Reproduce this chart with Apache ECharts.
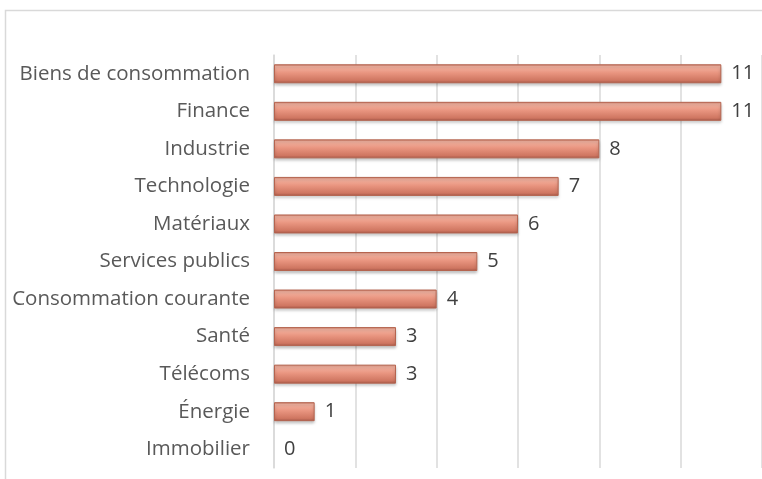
<!DOCTYPE html>
<html>
<head>
<meta charset="utf-8">
<script src="https://cdn.jsdelivr.net/npm/echarts@6/dist/echarts.min.js"></script>
<style>
  html, body { margin: 0; padding: 0; background: #fff; }
  #chart { width: 762px; height: 479px; }
</style>
</head>
<body>
<div id="chart"></div>
<script>
const categories = [
  'Biens de consommation', 'Finance', 'Industrie', 'Technologie', 'Matériaux',
  'Services publics', 'Consommation courante', 'Santé', 'Télécoms', 'Énergie', 'Immobilier'
]
const values = [11, 11, 8, 7, 6, 5, 4, 3, 3, 1, 0]

const chart = echarts.init(document.getElementById('chart'))

const barFill = new echarts.graphic.LinearGradient(0, 0, 0, 1, [
  { offset: 0, color: '#c97a66' },
  { offset: 0.12, color: '#f4b3a1' },
  { offset: 0.45, color: '#e99580' },
  { offset: 0.85, color: '#cf7661' },
  { offset: 1, color: '#a8594a' }
])

// a zero bar should leave no mark, only its label
const barData = values.map(v => v === 0
  ? { value: v, itemStyle: { color: 'rgba(0,0,0,0)', borderColor: 'rgba(0,0,0,0)', borderWidth: 0, shadowColor: 'rgba(0,0,0,0)' } }
  : v)

chart.setOption({
  animation: false,
  graphic: [{
    type: 'rect',
    shape: { x: 5.5, y: 10.5, width: 800, height: 500 },
    style: { fill: 'none', stroke: '#d9d9d9', lineWidth: 1.5 },
    silent: true
  }],
  grid: { left: 274, top: 55, width: 492, height: 413 },
  xAxis: {
    type: 'value',
    min: 0,
    max: 12,
    interval: 2,
    axisLine: { show: false },
    axisTick: { show: false },
    axisLabel: { show: false },
    splitLine: { lineStyle: { color: '#d9d9d9', width: 1.5 } }
  },
  yAxis: {
    type: 'category',
    data: categories,
    inverse: true,
    axisLine: { show: true, lineStyle: { color: '#d9d9d9', width: 1.5 } },
    axisTick: { show: false },
    axisLabel: {
      margin: 24,
      color: '#595959',
      fontSize: 20.5,
      fontFamily: 'Open Sans'
    }
  },
  series: [{
    type: 'bar',
    data: barData,
    barWidth: 19,
    itemStyle: {
      color: barFill,
      borderColor: '#b5644f',
      borderWidth: 1,
      shadowColor: 'rgba(0,0,0,0.25)',
      shadowBlur: 3,
      shadowOffsetY: 2
    },
    label: {
      show: true,
      position: 'right',
      distance: 10,
      color: '#404040',
      fontSize: 20,
      fontFamily: 'Open Sans'
    }
  }]
})
</script>
</body>
</html>
